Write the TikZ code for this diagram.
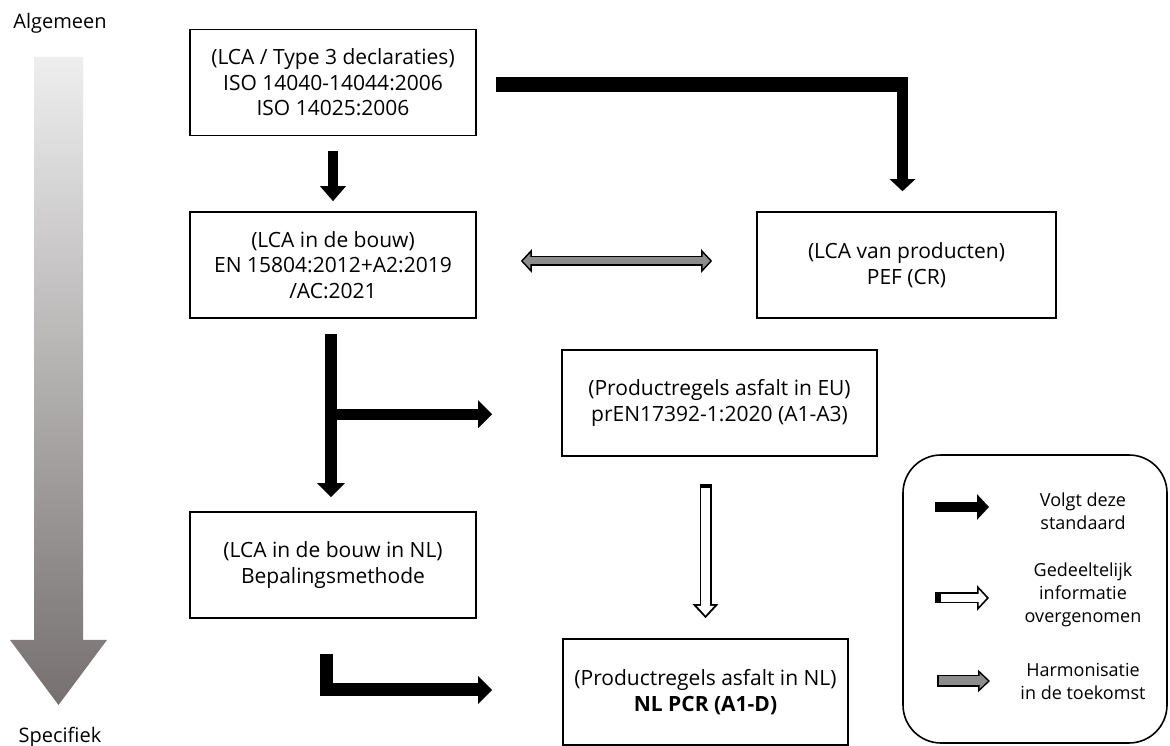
\documentclass[tikz,border=0pt]{standalone}
\usepackage{fontspec}
\setmainfont{Open Sans}
\usetikzlibrary{arrows.meta,calc}

\begin{document}
\begin{tikzpicture}[x=1pt,y=1pt,
  box/.style={draw=black,line width=1.6pt,minimum width=286pt,minimum height=106pt,inner sep=0pt,align=center,font=\fontsize{21}{25.5}\selectfont},
  zijtekst/.style={inner sep=0pt,font=\fontsize{20}{24}\selectfont},
  legtekst/.style={inner sep=0pt,align=center,font=\fontsize{18}{23}\selectfont},
  volgt/.style={draw=black,line width=12pt,-{Triangle[width=27pt,length=14pt]}},
  deelsbuiten/.style={draw=black,line width=12pt,-{Triangle[width=25pt,length=14pt]}},
  deelsbinnen/.style={draw=white,line width=8.4pt,-{Triangle[width=16.5pt,length=9.4pt]}},
  harmbuiten/.style={draw=black,line width=10pt,{Triangle[width=23pt,length=11pt]}-{Triangle[width=23pt,length=11pt]}},
  harmbinnen/.style={draw=harmColor,line width=7pt,{Triangle[width=15pt,length=7.4pt]}-{Triangle[width=15pt,length=7.4pt]}}]
\path[use as bounding box] (0,0) rectangle (1170,746);
\definecolor{harmColor}{RGB}{140,140,140}
\definecolor{topColor}{RGB}{238,238,238}
\definecolor{bottomColor}{RGB}{118,112,112}

% van algemeen naar specifiek
\shade[top color=topColor,bottom color=bottomColor] (34,689) -- (83,689) -- (83,106) -- (107,106) -- (58.5,41) -- (10,106) -- (34,106) -- cycle;
\node[zijtekst] (algemeen) at (60,723) {Algemeen};
\node[zijtekst] (specifiek) at (60,9) {Specifiek};

\node[box] (iso) at (333,663.5) {(LCA / Type 3 declaraties)\\ISO 14040-14044:2006\\ISO 14025:2006};
\node[box] (en) at (333,481) {(LCA in de bouw)\\EN 15804:2012+A2:2019\\/AC:2021};
\node[box,minimum width=299pt] (pef) at (906.5,481) {(LCA van producten)\\PEF (CR)};
\node[box,minimum width=315pt] (eu) at (719.5,343) {(Productregels asfalt in EU)\\prEN17392-1:2020 (A1-A3)};
\node[box] (nlbouw) at (333,181) {(LCA in de bouw in NL)\\Bepalingsmethode};
\node[box,minimum width=285pt] (pcr) at (705.5,54) {(Productregels asfalt in NL)\\\textbf{NL PCR (A1-D)}};

% volgt deze standaard
\path[volgt,line width=10pt,-{Triangle[width=25pt,length=15pt]},shorten <=15pt,shorten >=10pt] (iso.south) -- (en.north);
\coordinate (isostart) at ([xshift=19pt,yshift=-2pt]iso.east);
\coordinate (knik) at ([xshift=-4pt]pef.north |- isostart);
\path[draw=black,line width=15pt] (isostart) -- ([xshift=5.5pt]knik);
\path[volgt,line width=11pt,-{Triangle[width=25pt,length=12pt]},shorten >=20pt] ([yshift=7.5pt]knik) -- ([xshift=-4pt]pef.north);
\path[volgt,shorten <=15pt,shorten >=14pt] ([xshift=-2pt]en.south) -- ([xshift=-2pt]nlbouw.north);
\coordinate (splitsing) at ([xshift=-2pt,yshift=-95.5pt]en.south);
\path[volgt,line width=11pt,shorten >=69pt] (splitsing) -- (splitsing -| eu.west);
\path[volgt,line width=13pt,shorten >=70pt] ([xshift=-6.5pt,yshift=-35pt]nlbouw.south) |- ([yshift=2pt]pcr.west);

% harmonisatie
\path[harmbuiten,shorten <=44pt,shorten >=44pt] ([yshift=4pt]en.east) -- ([yshift=4pt]pef.west);
\path[harmbinnen,shorten <=46.1pt,shorten >=46.1pt] ([yshift=4pt]en.east) -- ([yshift=4pt]pef.west);

% gedeeltelijk overgenomen
\coordinate (deelsstart) at (pcr.north |- eu.south);
\path[deelsbuiten,shorten <=27pt,shorten >=20pt] (deelsstart) -- (pcr.north);
\path[deelsbinnen,shorten <=31pt,shorten >=22.8pt] (deelsstart) -- (pcr.north);

% legenda
\node[draw=black,line width=1.6pt,rounded corners=38pt,minimum width=264pt,minimum height=288pt] (legenda) at (1035,147) {};
\coordinate (v1) at (935,239);
\coordinate (v2) at (989,239);
\path[volgt,line width=10pt,-{Triangle[width=25pt,length=12pt]}] (v1) -- (v2);
\coordinate (d1) at (935,148);
\coordinate (d2) at (989,148);
\path[deelsbuiten,line width=11pt,-{Triangle[width=25pt,length=12pt]}] (d1) -- (d2);
\path[deelsbinnen,line width=7.6pt,-{Triangle[width=16.5pt,length=7.9pt]},shorten <=6pt,shorten >=2.4pt] (d1) -- (d2);
\coordinate (h1) at (937,65);
\coordinate (h2) at (990,65);
\path[harmbuiten,line width=12pt,-{Triangle[width=22pt,length=12pt]}] (h1) -- (h2);
\path[harmbinnen,line width=9pt,-{Triangle[width=15.2pt,length=8.3pt]},shorten <=1.5pt,shorten >=2.2pt] (h1) -- (h2);
\node[legtekst] (volgttekst) at (1083,235) {Volgt deze\\standaard};
\node[legtekst] (deelstekst) at (1083,151) {Gedeeltelijk\\informatie\\overgenomen};
\node[legtekst] (harmtekst) at (1083,65) {Harmonisatie\\in de toekomst};
\end{tikzpicture}
\end{document}
